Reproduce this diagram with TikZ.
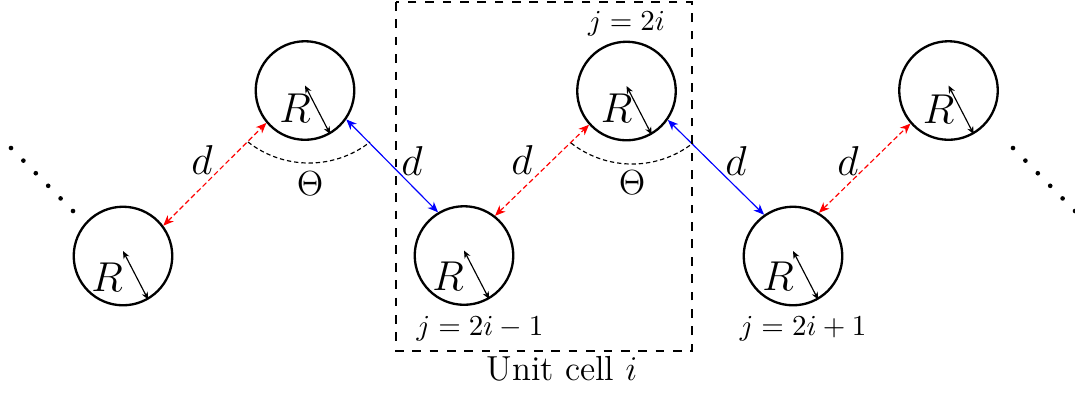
\documentclass[tikz,border=0pt]{standalone}
\usepackage{tikz}
\usetikzlibrary{arrows, arrows.meta, positioning}
\tikzset{
    myparticle/.style = {
        circle,
        draw=black,
        line width=0.8pt,
        minimum size=34pt,
        inner sep=0pt
    },
    mylink/.style = {
        <->,
        >={Stealth[length=3.6pt, width=3pt, inset=1.1pt]}
    },
    myred/.style = {
        mylink,
        red,
        dash pattern=on 1.8pt off 1pt
    },
    myblue/.style = {
        mylink,
        blue
    },
    myradius/.style = {
        <->,
        >={Stealth[length=2.6pt, width=2.2pt, inset=0.8pt]},
        black
    },
    myangle/.style = {
        dash pattern=on 1.5pt off 1pt
    },
    mysym/.style = {
        font=\Large
    }
}

\begin{document}
\begin{tikzpicture}[x=0.345pt, y=-0.345pt]
\useasboundingbox (0,0) rectangle (1075,392);

% Particulas
\node (c1) [myparticle] at (123,256) {};
\node (c2) [myparticle] at (305,90.5) {};
\node (c3) [myparticle] at (464,255.5) {};
\node (c4) [myparticle] at (626.5,91) {};
\node (c5) [myparticle] at (793,256) {};
\node (c6) [myparticle] at (948.5,90.5) {};

% Raios
\foreach \c/\dx/\dy in {c1/-16/21, c2/-10/18, c3/-16/21, c4/-10/17, c5/-15/20, c6/-10/18.5} {
    \draw [myradius] ([shift={(0,-5)}]\c.center) -- (\c.-60);
    \node [mysym] at ([shift={(\dx,\dy)}]\c.center) {$R$};
}

% Distancias
\draw [myred] (c1.37.5) -- (c2.220);
\draw [myblue] (c2.-35) -- (c3.121);
\draw [myred] (c3.52) -- (c4.222);
\draw [myblue] (c4.-35) -- (c5.125);
\draw [myred] (c5.59) -- (c6.221);
\node (d1) [mysym] at (202,160) {$d$};
\node (d2) [mysym] at (412,161) {$d$};
\node (d3) [mysym] at (522,160) {$d$};
\node (d4) [mysym] at (736,161) {$d$};
\node (d5) [mysym] at (848,161) {$d$};

% Angulos
\draw [myangle] (248,142) arc[start angle=232, end angle=308, radius=34.2pt];
\draw [myangle] (571,143) arc[start angle=232, end angle=308, radius=34.2pt];
\node (t1) [font=\large] at (310,184) {$\Theta$};
\node (t2) [font=\large] at (632,183) {$\Theta$};

% Indices
\node (j1) [below=0pt of c3, xshift=5.5pt] {$j=2i-1$};
\node (j2) [above=-2pt of c4] {$j=2i$};
\node (j3) [below=0pt of c5, xshift=3.5pt] {$j=2i+1$};

% Celula unitaria
\draw [dashed] (396,2) rectangle (692,351);
\node (cell) [font=\large] at (562,369) {Unit cell $i$};

% Pontos
\foreach \i in {0,...,5} {
    \fill ({11+12.4*\i},{148+12.6*\i}) circle (0.8pt);
    \fill ({1013+12.4*\i},{148+12.6*\i}) circle (0.8pt);
}

\end{tikzpicture}
\end{document}
